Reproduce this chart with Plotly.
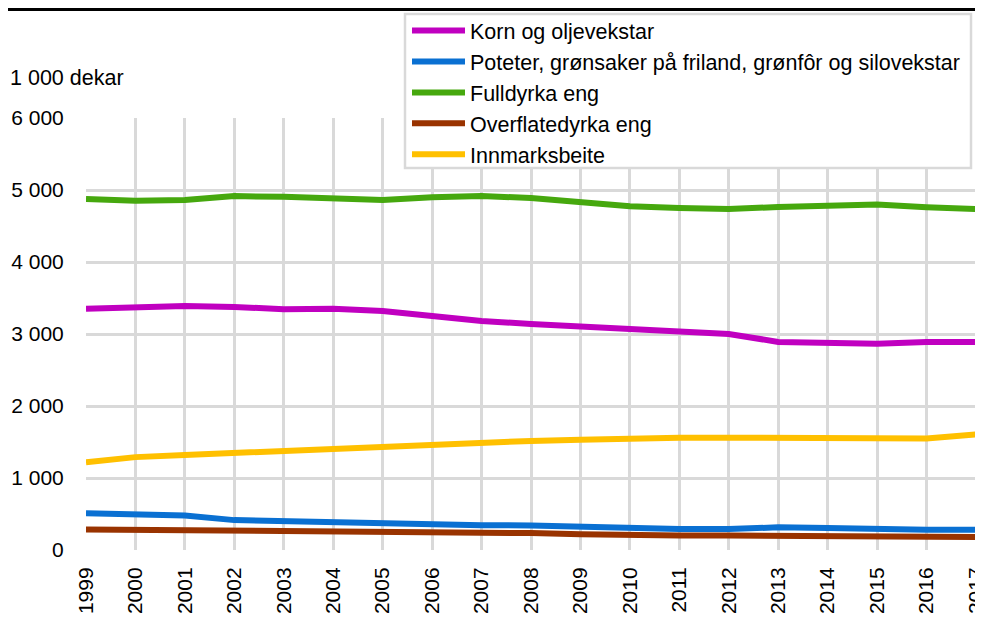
import plotly.graph_objects as go

years = list(range(1999, 2018))
korn = [3350, 3365, 3390, 3375, 3345, 3350, 3320, 3250, 3180, 3140, 3105, 3070, 3030, 3000, 2890, 2880, 2865, 2890, 2890]
poteter = [510, 495, 480, 415, 400, 385, 355, 350, 345, 340, 320, 310, 290, 290, 315, 305, 285, 280, 280]
fulldyrka = [4875, 4850, 4860, 4915, 4905, 4890, 4860, 4900, 4915, 4890, 4830, 4775, 4750, 4735, 4765, 4790, 4800, 4760, 4735]
overflate = [285, 280, 275, 275, 270, 265, 265, 260, 250, 235, 220, 200, 200, 200, 195, 190, 185, 185, 180]
innmark = [1220, 1290, 1320, 1350, 1365, 1390, 1430, 1460, 1500, 1515, 1530, 1550, 1560, 1560, 1560, 1550, 1555, 1550, 1605]

series = [
    ("Korn og oljevekstar", korn, "#C000C0"),
    ("Poteter, grønsaker på friland, grønfôr og silovekstar", poteter, "#0A70D2"),
    ("Fulldyrka eng", fulldyrka, "#46A80E"),
    ("Overflatedyrka eng", overflate, "#993300"),
    ("Innmarksbeite", innmark, "#FFC000"),
]

ytickvals = [0, 1000, 2000, 3000, 4000, 5000, 6000]
yticktext = ["0", "1 000", "2 000", "3 000", "4 000", "5 000", "6 000"]

font = "Liberation Sans, Arial, sans-serif"

# page is rendered with an 8px body margin; plot area in page pixels: x 86..976, y 118..550
def px(x):
    return (x - 86) / 890

def py(y):
    return (550 - y) / 432

fig = go.Figure()
for name, vals, col in series:
    fig.add_trace(go.Scatter(x=years, y=vals, name=name, mode="lines",
                             line=dict(color=col, width=6), cliponaxis=False))

fig.update_layout(
    width=975, height=609,
    margin=dict(l=78, r=7, t=110, b=67, autoexpand=False),
    paper_bgcolor="white", plot_bgcolor="white",
    font=dict(family=font, size=21, color="black"),
    showlegend=True,
    legend=dict(x=px(407), y=py(10), xanchor="left", yanchor="top",
                bgcolor="rgba(0,0,0,0)", borderwidth=0,
                font=dict(size=21.5, family=font), itemwidth=53,
                tracegroupgap=0),
    xaxis=dict(range=[1998.9999, 2017.0001], tickvals=years, ticktext=[str(y) for y in years],
               tickangle=-90, showgrid=True, gridcolor="#d9d9d9", gridwidth=2.5,
               zeroline=False, showline=False, ticks="outside", ticklen=8, tickcolor="rgba(0,0,0,0)",
               tickfont=dict(size=21), automargin=False, ticklabeloverflow="allow"),
    yaxis=dict(range=[0, 6000], tickvals=ytickvals, ticktext=yticktext,
               showgrid=True, gridcolor="#d9d9d9", gridwidth=2.5,
               zeroline=False, showline=False, ticks="outside", ticklen=17, tickcolor="rgba(0,0,0,0)",
               tickfont=dict(size=21), automargin=False, ticklabeloverflow="allow"),
    annotations=[dict(text="1 000 dekar", xref="paper", yref="paper",
                      x=px(8), y=py(78), xanchor="left", yanchor="middle",
                      showarrow=False, font=dict(size=21.5, family=font))],
    shapes=[
        dict(type="line", xref="paper", yref="paper",
             x0=px(6), x1=px(990), y0=py(9.5), y1=py(9.5),
             line=dict(color="black", width=3)),
        dict(type="rect", xref="paper", yref="paper", layer="above",
             x0=px(405), x1=px(971), y0=py(14), y1=py(168),
             fillcolor="white", line=dict(color="#d9d9d9", width=2.5)),
    ],
)

fig.write_html("out.html")
